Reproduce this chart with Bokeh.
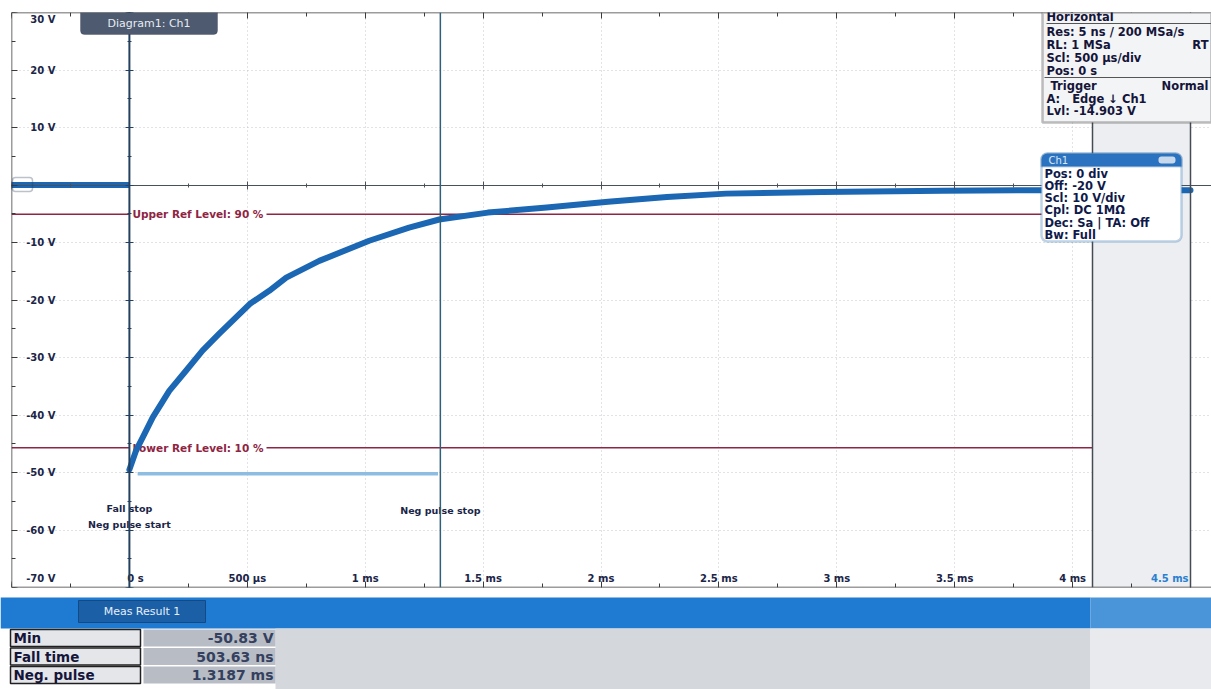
from bokeh.plotting import figure
from bokeh.models import (Range1d, SingleIntervalTicker, LinearAxis, Span, BoxAnnotation,
                          Label, ColumnDataSource, Grid, CustomJSTickFormatter)
from bokeh.layouts import column
from bokeh.embed import file_html
from bokeh.resources import INLINE
from bokeh.core.properties import value

# ---------------- data ----------------
# pre-trigger part of the trace
pre_time_ms = [-0.50, -0.25, 0.00]
pre_volts = [0.0, 0.0, 0.0]
# falling pulse and recovery
time_ms = [0.00, 0.028, 0.064, 0.099, 0.169, 0.24, 0.31, 0.38, 0.51,
           0.593, 0.665, 0.805, 1.017, 1.186, 1.314, 1.52, 1.77, 2.03, 2.28, 2.53, 2.94,
           3.45, 3.83, 4.50]
volts = [-49.5, -46.2, -43.3, -40.4, -35.8, -32.3, -28.8, -25.9, -20.7,
         -18.4, -16.1, -13.2, -9.7, -7.4, -6.0, -4.8, -3.9, -2.9, -2.1, -1.5, -1.2,
         -1.0, -0.9, -0.9]

y_tick_values = [30, 20, 10, -10, -20, -30, -40, -50, -60, -70]
y_tick_labels = ["30 V", "20 V", "10 V", "-10 V", "-20 V", "-30 V", "-40 V", "-50 V", "-60 V", "-70 V"]
x_tick_values = [0.0, 0.5, 1.0, 1.5, 2.0, 2.5, 3.0, 3.5, 4.0, 4.5]
x_tick_labels = ["0 s", "500 µs", "1 ms", "1.5 ms", "2 ms", "2.5 ms", "3 ms", "3.5 ms", "4 ms", "4.5 ms"]

ref_level_v = [-5.1, -45.7]
ref_level_labels = ["Upper Ref Level: 90 %", "Lower Ref Level: 10 %"]
base_level_v = -50.2

cursor_t = [0.0, 1.3187]
cursor_label_text = ["Fall stop", "Neg pulse start", "Neg pulse stop"]
cursor_label_t = [0.0, 0.0, 1.3187]

meas_names = ["Min", "Fall time", "Neg. pulse"]
meas_values = ["-50.83 V", "503.63 ns", "1.3187 ms"]

NB = "\u00a0"
horizontal_info = ["Horizontal", "Res: 5 ns / 200 MSa/s", "RL: 1 MSa", "Scl: 500 µs/div",
                   "Pos: 0 s", NB + "Trigger", "A:" + NB * 3 + "Edge \u2193\ufe0e Ch1", "Lvl: -14.903 V"]
horizontal_info_right = ["", "", "RT", "", "", "Normal", "", ""]
channel_info = ["Pos: 0 div", "Off: -20 V", "Scl: 10 V/div", "Cpl: DC 1MΩ",
                "Dec: Sa | TA: Off", "Bw: Full"]
diagram_title = "Diagram1: Ch1"
channel_title = "Ch1"
meas_title = "Meas Result 1"

# ---------------- layout helpers (screen px -> data) ----------------
W = 1211
TOP_H = 590
BOT_H = 99
X0, PX_MS = -0.5, 235.8
Y_TOP, PX_V = 30.0, 5.75
FRAME_L, FRAME_T = 11, 12
X_END = X0 + (W - FRAME_L) / PX_MS


def tx(px):
    return X0 + (px - FRAME_L) / PX_MS


def vy(py):
    return Y_TOP - (py - FRAME_T) / PX_V


FONT_NAME = "DejaVu Sans"
FONT = value(FONT_NAME)
NAVY = "#1b2547"
RED = "#8e2543"
BLUE = "#1b67b3"

p = figure(width=W, height=TOP_H, x_range=Range1d(X0, X_END), y_range=Range1d(-70, 30),
           output_backend="svg", toolbar_location=None, x_axis_type=None, y_axis_type=None,
           min_border_left=FRAME_L, min_border_right=0, min_border_top=FRAME_T, min_border_bottom=3)
p.outline_line_color = None
p.background_fill_color = "white"
p.border_fill_color = "white"
p.frame_align = False

blank = CustomJSTickFormatter(code="return ''")

# grid
p.add_layout(Grid(dimension=0, ticker=SingleIntervalTicker(interval=0.5),
                  grid_line_color="#b4bac2", grid_line_dash="1 3", grid_line_alpha=0.8))
p.add_layout(Grid(dimension=1, ticker=SingleIntervalTicker(interval=10),
                  grid_line_color="#b4bac2", grid_line_dash="1 3", grid_line_alpha=0.8))

# gray strip at the right
p.add_layout(BoxAnnotation(left=tx(1092), right=4.5, fill_color="#eceef1", fill_alpha=1,
                           line_color=None, level="underlay"))


def make_axis(loc, interval, tin, tout, mtin, mtout, color="#3a3a3a", width=1.5):
    return LinearAxis(fixed_location=loc,
                      ticker=SingleIntervalTicker(interval=interval, num_minor_ticks=2),
                      formatter=blank, major_tick_in=tin, major_tick_out=tout,
                      minor_tick_in=mtin, minor_tick_out=mtout,
                      axis_line_color=color, axis_line_width=width,
                      major_tick_line_color=color, minor_tick_line_color=color,
                      major_label_standoff=0, major_label_text_font_size="1px")


p.add_layout(make_axis(-70, 0.5, 6, 0, 4, 0), "below")
p.add_layout(make_axis(30, 0.5, 6, 0, 4, 0), "above")
p.add_layout(make_axis(X0, 10, 6, 0, 4, 0), "left")
# centre axes
p.add_layout(make_axis(0, 0.5, 4, 4, 2, 2, color="#4a5058", width=1), "below")
p.add_layout(make_axis(0, 10, 4, 4, 2, 2, color="#23415f", width=1), "left")

# right borders
p.add_layout(Span(location=tx(1092), dimension="height", line_color="#454b55", line_width=1.5))
p.add_layout(Span(location=4.5, dimension="height", line_color="#454b55", line_width=1.5))

# reference level lines (broken behind the labels)
label_end = tx(266)
right_end = tx(1092)
p.segment(x0=[X0] * 2, x1=[cursor_t[0]] * 2, y0=ref_level_v, y1=ref_level_v,
          line_color=RED, line_width=1.5)
p.segment(x0=[label_end] * 2, x1=[right_end] * 2, y0=ref_level_v, y1=ref_level_v,
          line_color=RED, line_width=1.5)
p.text(x=[cursor_t[0]] * 2, y=ref_level_v, text=ref_level_labels, x_offset=3,
       text_align="left", text_baseline="middle", text_font=FONT, text_font_style="bold",
       text_font_size="10.5px", text_color=RED)

# base level marker (light blue)
p.segment(x0=[cursor_t[0] + 0.035], x1=[cursor_t[1] - 0.01], y0=[base_level_v], y1=[base_level_v],
          line_color="#8dbde0", line_width=3.5)

# trace
p.line(pre_time_ms, pre_volts, line_color=BLUE, line_width=6, line_join="round")
p.line(time_ms, volts, line_color=BLUE, line_width=6, line_join="round", line_cap="round")

# tick labels (inside the frame)
y_off = [7 if v == y_tick_values[0] else (-9 if v == y_tick_values[-1] else 0) for v in y_tick_values]
ysrc = ColumnDataSource(dict(x=[X0] * len(y_tick_values), y=y_tick_values, t=y_tick_labels, yo=y_off))
p.text(x="x", y="y", text="t", y_offset="yo", x_offset=44, source=ysrc, text_align="right",
       text_baseline="middle", text_font=FONT, text_font_style="bold", text_font_size="10px",
       text_color=NAVY)
x_off = [6 if v == 0 else 0 for v in x_tick_values[:-1]]
xsrc = ColumnDataSource(dict(x=x_tick_values[:-1], y=[-70] * (len(x_tick_values) - 1),
                             t=x_tick_labels[:-1], xo=x_off))
p.text(x="x", y="y", text="t", x_offset="xo", y_offset=-9, source=xsrc, text_align="center",
       text_baseline="middle", text_font=FONT, text_font_style="bold", text_font_size="10px",
       text_color=NAVY)
p.text(x=[x_tick_values[-1]], y=[-70], text=[x_tick_labels[-1]], x_offset=-2, y_offset=-9,
       text_align="right", text_baseline="middle", text_font=FONT, text_font_style="bold",
       text_font_size="10px", text_color="#2a7fd0")

# cursor labels
cl_y = [vy(508), vy(524), vy(510)]
p.text(x=cursor_label_t, y=cl_y, text=cursor_label_text, text_align="center",
       text_baseline="middle", text_font=FONT, text_font_style="bold", text_font_size="9.5px",
       text_color=NAVY)

# cursors
p.add_layout(Span(location=cursor_t[0], dimension="height", line_color="#23415f", line_width=2))
p.add_layout(Span(location=cursor_t[1], dimension="height", line_color="#2e6079", line_width=1.5))

# channel marker at 0 V
p.add_layout(BoxAnnotation(left=tx(12), right=tx(32), top=vy(177), bottom=vy(191),
                           fill_alpha=0, line_color="#1d3557", line_width=1.5, border_radius=3))

# diagram tab
p.add_layout(BoxAnnotation(left=tx(80), right=tx(217), top=30, bottom=vy(34),
                           fill_color="#4d5a70", fill_alpha=1, line_color="#2e3646",
                           line_width=1, border_radius=(0, 0, 4, 4)))
p.add_layout(Label(x=tx(148.5), y=vy(23), text=diagram_title, text_align="center",
                   text_baseline="middle", text_font=FONT_NAME, text_font_size="11px",
                   text_color="#e8ecf2"))

# horizontal info box
BOX_FS = "11.5px"
p.add_layout(BoxAnnotation(left=tx(1042), right=X_END, top=30, bottom=vy(122),
                           fill_color="#f3f4f5", fill_alpha=1, line_color="#2b2b2b", line_width=2.5))
p.add_layout(BoxAnnotation(left=tx(1046), right=X_END, top=vy(22.5), bottom=vy(23.5),
                           fill_color="#555", fill_alpha=1, line_color=None))
p.add_layout(BoxAnnotation(left=tx(1044), right=X_END, top=vy(76.5), bottom=vy(77.5),
                           fill_color="#555", fill_alpha=1, line_color=None))
h_rows = [16, 31, 44, 57, 70, 85, 98, 110]
for txt, txt_r, ry in zip(horizontal_info, horizontal_info_right, h_rows):
    p.add_layout(Label(x=tx(1046), y=vy(ry), text=txt, text_align="left",
                       text_baseline="middle", text_font=FONT_NAME, text_font_style="bold",
                       text_font_size=BOX_FS, text_color="#15153a"))
    if txt_r:
        p.add_layout(Label(x=tx(1208), y=vy(ry), text=txt_r, text_align="right",
                           text_baseline="middle", text_font=FONT_NAME, text_font_style="bold",
                           text_font_size=BOX_FS, text_color="#15153a"))

# channel box
p.add_layout(BoxAnnotation(left=tx(1041), right=tx(1181), top=vy(153), bottom=vy(241),
                           fill_color="white", fill_alpha=1, line_color="#2a6db0",
                           line_width=2.5, border_radius=6))
p.add_layout(BoxAnnotation(left=tx(1041), right=tx(1181), top=vy(153), bottom=vy(166),
                           fill_color="#2b73c0", fill_alpha=1, line_color="#2a6db0",
                           line_width=2, border_radius=(6, 6, 0, 0)))
p.add_layout(BoxAnnotation(left=tx(1158), right=tx(1175), top=vy(156), bottom=vy(163),
                           fill_color="#c9d9ec", fill_alpha=1, line_color=None, border_radius=3))
p.add_layout(Label(x=tx(1048), y=vy(159.5), text=channel_title, text_align="left",
                   text_baseline="middle", text_font=FONT_NAME, text_font_size="10px",
                   text_color="#dce8f6"))
c_rows = [173, 185, 197, 209, 222, 234]
for txt, ry in zip(channel_info, c_rows):
    p.add_layout(Label(x=tx(1044), y=vy(ry), text=txt, text_align="left",
                       text_baseline="middle", text_font=FONT_NAME, text_font_style="bold",
                       text_font_size=BOX_FS, text_color="#0f1a4a"))

# ---------------- measurement panel ----------------
b = figure(width=W, height=BOT_H, x_range=Range1d(0, W), y_range=Range1d(689, 590),
           output_backend="svg", toolbar_location=None, x_axis_type=None, y_axis_type=None,
           min_border=0)
b.outline_line_color = None
b.background_fill_color = "white"
b.border_fill_color = "white"
b.frame_align = False

b.quad(left=[0], right=[1090], top=[597], bottom=[628], fill_color="#1f7ad2", line_color=None)
b.quad(left=[1090], right=[W], top=[597], bottom=[628], fill_color="#4a94da", line_color=None)
b.quad(left=[78], right=[205], top=[600], bottom=[622], fill_color="#1b5fa6", line_color="#134a85")
b.text(x=[141.5], y=[611], text=[meas_title], text_align="center", text_baseline="middle",
       text_font=FONT, text_font_size="11px", text_color="#e6eef8")
b.quad(left=[275], right=[1090], top=[628], bottom=[689], fill_color="#d4d7dc", line_color=None)
b.quad(left=[1090], right=[W], top=[628], bottom=[689], fill_color="#e8eaed", line_color=None)

n = len(meas_names)
row_top = [629 + i * 18.5 for i in range(n)]
row_bot = [t + 17 for t in row_top]
row_mid = [t + 8.5 for t in row_top]
b.quad(left=[143] * n, right=[275] * n, top=row_top, bottom=row_bot,
       fill_color="#b7bcc5", line_color=None)
b.quad(left=[10] * n, right=[140] * n, top=row_top, bottom=row_bot,
       fill_color="#e4e6ea", line_color="#202020", line_width=1.5)
b.text(x=[13] * n, y=row_mid, text=meas_names, text_align="left", text_baseline="middle",
       text_font=FONT, text_font_style="bold", text_font_size="13.5px", text_color="#15153a")
b.text(x=[273] * n, y=row_mid, text=meas_values, text_align="right", text_baseline="middle",
       text_font=FONT, text_font_style="bold", text_font_size="14px", text_color="#34405e")

layout = column(p, b, spacing=0)
open("out.html", "w").write(file_html(layout, INLINE))
